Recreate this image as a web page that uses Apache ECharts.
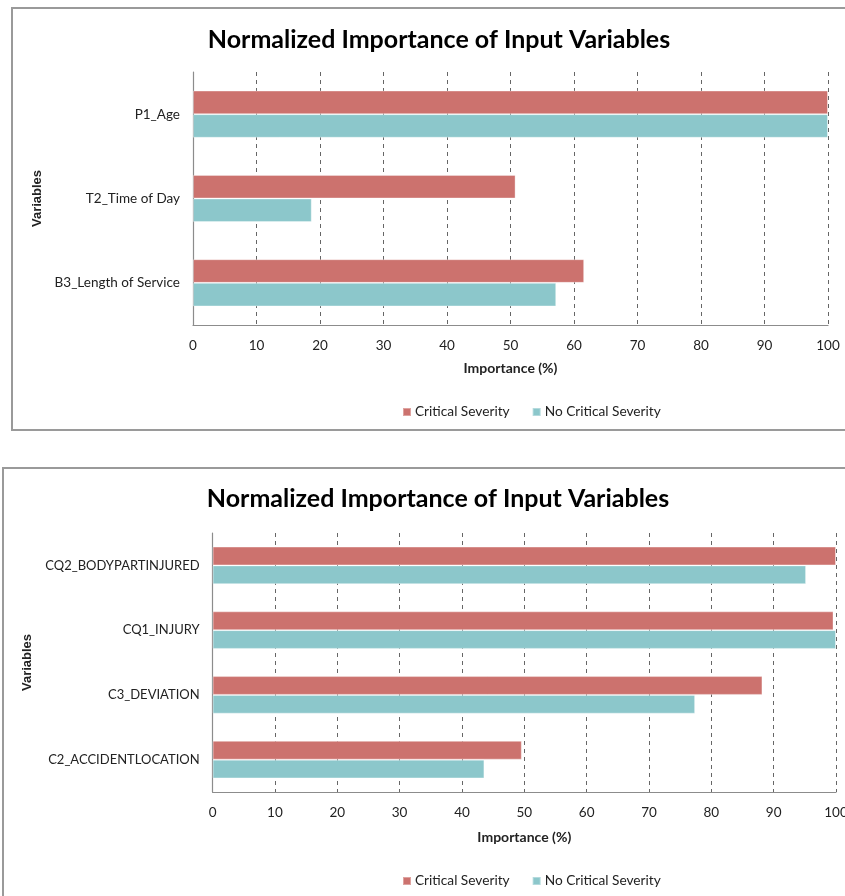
<!DOCTYPE html>
<html>
<head>
<meta charset="utf-8">
<script src="https://cdn.jsdelivr.net/npm/echarts@6/dist/echarts.min.js"></script>
<style>
html,body{margin:0;padding:0;background:#fff;overflow:hidden;}
#c{width:845px;height:896px;}
</style>
</head>
<body>
<div id="c"></div>
<script>
// ---- data ----
var titleText = 'Normalized Importance of Input Variables';
var seriesNames = ['Critical Severity', 'No Critical Severity'];
var xTicks = [0, 10, 20, 30, 40, 50, 60, 70, 80, 90, 100];

var categoriesTop = ['P1_Age', 'T2_Time of Day', 'B3_Length of Service'];
var criticalTop = [100, 50.8, 61.6];
var noCriticalTop = [100, 18.7, 57.2];

var categoriesBottom = ['CQ2_BODYPARTINJURED', 'CQ1_INJURY', 'C3_DEVIATION', 'C2_ACCIDENTLOCATION'];
var criticalBottom = [100, 99.6, 88.2, 49.6];
var noCriticalBottom = [95.2, 100, 77.4, 43.6];

// ---- styles ----
var RED = '#CC726E';
var TEAL = '#8CC7CB';
var FONT = 'Lato, "Open Sans", sans-serif';

var chart = echarts.init(document.getElementById('c'), null, {renderer: 'canvas'});

function xAxisCfg(gridIndex, nameGap) {
  return {
    gridIndex: gridIndex, type: 'value', min: xTicks[0], max: xTicks[xTicks.length - 1], interval: 10,
    name: 'Importance (%)', nameLocation: 'middle', nameGap: nameGap,
    nameTextStyle: {fontFamily: FONT, fontWeight: 'bold', fontSize: 14, color: '#222'},
    axisLine: {show: true, lineStyle: {color: '#8c8c8c', width: 1.2}},
    axisTick: {show: false},
    axisLabel: {fontFamily: FONT, fontSize: 13.5, color: '#222', margin: 14, hideOverlap: false},
    splitLine: {show: true, lineStyle: {color: '#666', type: [4, 4], width: 1}}
  };
}
function yAxisCfg(gridIndex, cats, nameGap, fs) {
  return {
    gridIndex: gridIndex, type: 'category', data: cats, inverse: true,
    name: 'Variables', nameLocation: 'middle', nameGap: nameGap,
    nameTextStyle: {fontFamily: 'Liberation Sans', fontWeight: 'bold', fontSize: 13, color: '#222'},
    axisLine: {show: true, lineStyle: {color: '#8c8c8c', width: 1.2}},
    axisTick: {show: false},
    axisLabel: {fontFamily: FONT, fontSize: fs, color: '#222', margin: 13},
    splitLine: {show: false}
  };
}
function barSeries(name, color, data, idx, catGap) {
  return {
    name: name, type: 'bar', xAxisIndex: idx, yAxisIndex: idx, data: data,
    barGap: '0%', barCategoryGap: catGap,
    itemStyle: {color: color, borderColor: 'rgba(255,255,255,0.35)', borderWidth: 1},
    emphasis: {disabled: true}, animation: false
  };
}

var option = {
  animation: false,
  graphic: [
    {type: 'rect', shape: {x: 12, y: 8, width: 850, height: 422}, style: {fill: 'none', stroke: '#9a9a9a', lineWidth: 2}, z: -1},
    {type: 'rect', shape: {x: 3, y: 468, width: 860, height: 440}, style: {fill: 'none', stroke: '#9a9a9a', lineWidth: 2}, z: -1}
  ],
  title: [
    {text: titleText, left: 434, top: 22, textAlign: 'center',
     textStyle: {fontFamily: FONT, fontWeight: 'bold', fontSize: 25, color: '#000'}},
    {text: titleText, left: 433, top: 481, textAlign: 'center',
     textStyle: {fontFamily: FONT, fontWeight: 'bold', fontSize: 25, color: '#000'}}
  ],
  legend: [
    {data: seriesNames, left: 397, top: 400, itemWidth: 8, itemHeight: 8, itemGap: 22, icon: 'rect',
     selectedMode: false, textStyle: {fontFamily: FONT, fontSize: 13.7, color: '#222', padding: [0, 0, 0, -1]}},
    {data: seriesNames, left: 397, top: 869, itemWidth: 8, itemHeight: 8, itemGap: 22, icon: 'rect',
     selectedMode: false, textStyle: {fontFamily: FONT, fontSize: 13.7, color: '#222', padding: [0, 0, 0, -1]}}
  ],
  grid: [
    {left: 193, right: 17, top: 72, bottom: 896 - 325, containLabel: false, outerBoundsMode: 'none'},
    {left: 212.6, right: 9, top: 533, bottom: 896 - 792, containLabel: false, outerBoundsMode: 'none'}
  ],
  xAxis: [xAxisCfg(0, 36), xAxisCfg(1, 38)],
  yAxis: [yAxisCfg(0, categoriesTop, 147, 13.5), yAxisCfg(1, categoriesBottom, 174, 13)],
  series: [
    barSeries(seriesNames[0], RED, criticalTop, 0, '44%'),
    barSeries(seriesNames[1], TEAL, noCriticalTop, 0, '44%'),
    barSeries(seriesNames[0], RED, criticalBottom, 1, '42%'),
    barSeries(seriesNames[1], TEAL, noCriticalBottom, 1, '42%')
  ]
};
chart.setOption(option);
</script>
</body>
</html>
